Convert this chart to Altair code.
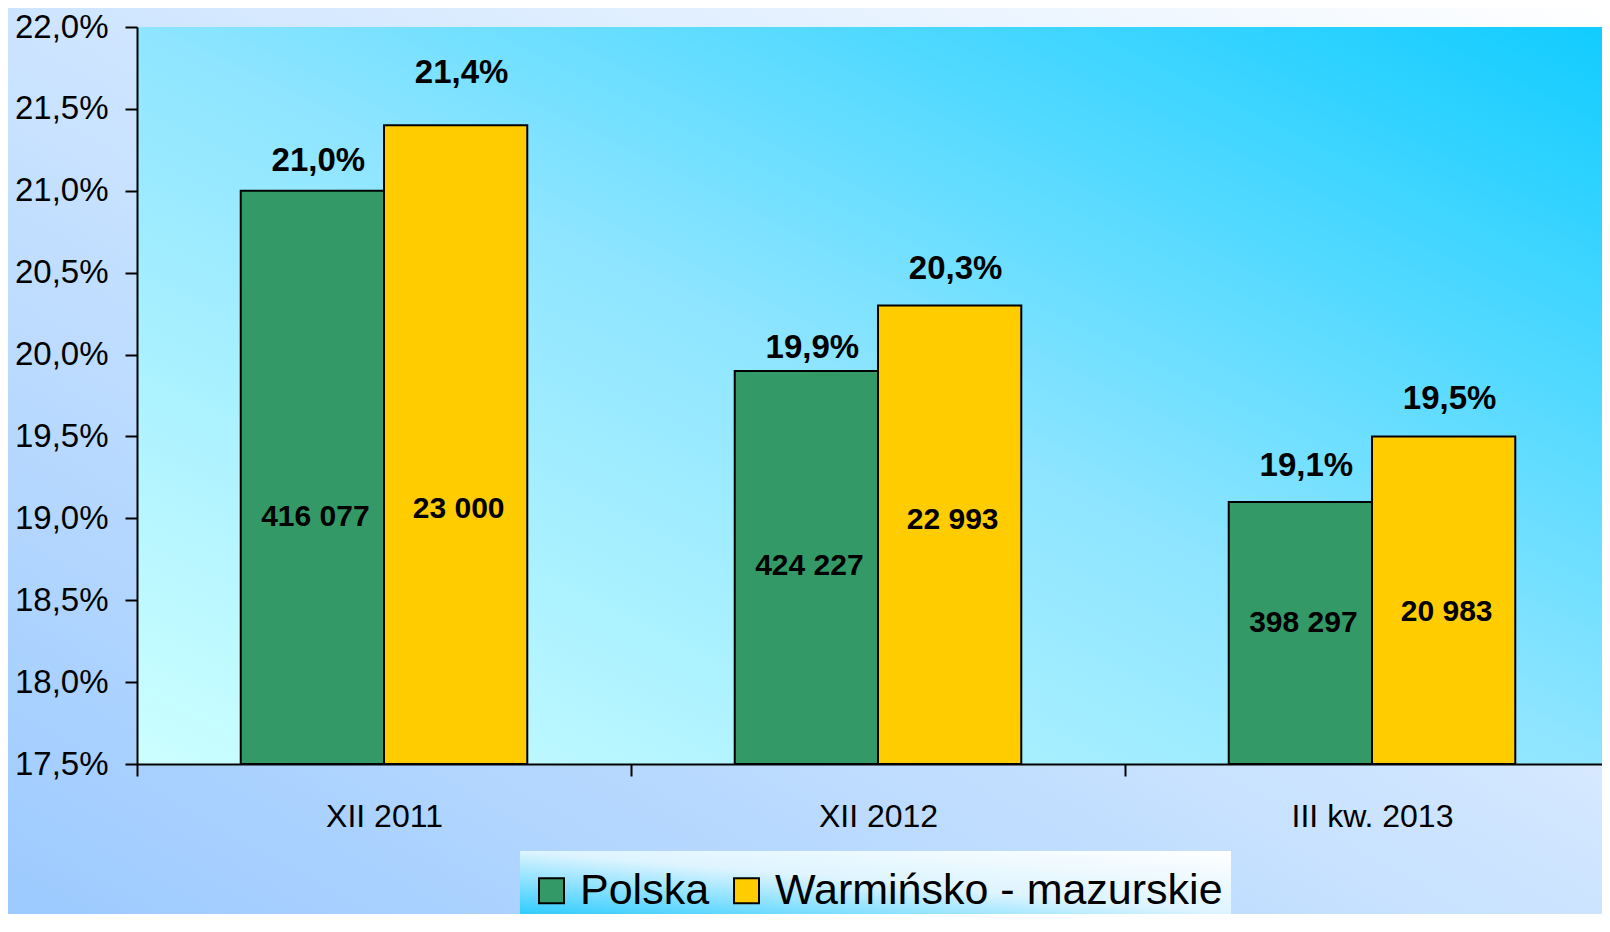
import altair as alt
import pandas as pd

# ---- data ----
categories = ["XII 2011", "XII 2012", "III kw. 2013"]
series = ["Polska", "Warmińsko - mazurskie"]
polska_pct = [21.0, 19.9, 19.1]
warm_pct = [21.4, 20.3, 19.5]
polska_count = ["416 077", "424 227", "398 297"]
warm_count = ["23 000", "22 993", "20 983"]
# vertical positions (in % units of the y scale) where the labels sit in the reference
polska_pct_pos = [21.18, 20.04, 19.32]
warm_pct_pos = [21.72, 20.52, 19.73]
polska_count_pos = [19.01, 18.71, 18.36]
warm_count_pos = [19.06, 18.99, 18.43]
y_ticks = [17.5, 18.0, 18.5, 19.0, 19.5, 20.0, 20.5, 21.0, 21.5, 22.0]
colors = ["#339966", "#FFCC00"]

rows = []
for i, c in enumerate(categories):
    for s, pct, ppos, cnt, pos in [
        (series[0], polska_pct[i], polska_pct_pos[i], polska_count[i], polska_count_pos[i]),
        (series[1], warm_pct[i], warm_pct_pos[i], warm_count[i], warm_count_pos[i]),
    ]:
        rows.append({
            "cat": c, "series": s, "pct": pct, "pct_pos": ppos,
            "pct_label": f"{pct:.1f}".replace(".", ",") + "%",
            "count": cnt, "count_pos": pos,
        })
df = pd.DataFrame(rows)

W, H = 1482, 737
PADL, PADT, PADB, PADR = 129, 19, 150, -17
FONT = "Liberation Sans"
LEG_Y = 826

one = alt.Data(values=[{"a": 1}])

bg = alt.Chart(one).mark_rect(
    color=alt.LinearGradient(
        gradient="linear", x1=0, y1=1, x2=1, y2=0,
        stops=[alt.GradientStop(color="#9CCAFF", offset=0),
               alt.GradientStop(color="#FFFFFF", offset=1)],
    )
).encode(x=alt.value(-PADL), x2=alt.value(W), y=alt.value(-PADT), y2=alt.value(H + PADB))

plotbg = alt.Chart(one).mark_rect(
    color=alt.LinearGradient(
        gradient="linear", x1=0, y1=1, x2=1, y2=0,
        stops=[alt.GradientStop(color="#CCFFFF", offset=0),
               alt.GradientStop(color="#8EE5FF", offset=0.5),
               alt.GradientStop(color="#10CCFF", offset=1)],
    )
).encode(x=alt.value(0), x2=alt.value(W), y=alt.value(0), y2=alt.value(H))

legbg = alt.Chart(one).mark_rect(
    color=alt.LinearGradient(
        gradient="linear", x1=0, y1=1, x2=1, y2=0,
        stops=[alt.GradientStop(color="#30CCFF", offset=0),
               alt.GradientStop(color="#DDF4FF", offset=0.5),
               alt.GradientStop(color="#FFFFFF", offset=1)],
    )
).encode(x=alt.value(383), x2=alt.value(1094), y=alt.value(LEG_Y - 2), y2=alt.value(H + PADB))

base = alt.Chart(df).encode(
    x=alt.X("cat:N", sort=categories,
            scale=alt.Scale(paddingInner=0, paddingOuter=0),
            axis=alt.Axis(title=None, labelAngle=0, labelFont=FONT, labelFontSize=32,
                          labelColor="black", labelPadding=25, tickSize=12,
                          tickBand="extent", domainColor="black", domainWidth=2,
                          tickColor="black", tickWidth=2, zindex=2)),
    xOffset=alt.XOffset("series:N", sort=series,
                        scale=alt.Scale(paddingInner=0, paddingOuter=0.724)),
)

bars = base.mark_bar(stroke="black", strokeWidth=2).encode(
    y=alt.Y("pct:Q", scale=alt.Scale(domain=[17.5, 22.0], zero=False, nice=False),
            axis=alt.Axis(title=None, values=y_ticks,
                          labelExpr="replace(format(datum.value, '.1f'), '.', ',') + '%'",
                          labelFont=FONT, labelFontSize=33, labelColor="black",
                          labelPadding=17, tickSize=12, grid=False,
                          domainColor="black", domainWidth=2,
                          tickColor="black", tickWidth=2, zindex=2)),
    y2=alt.datum(17.5),
    color=alt.Color("series:N", sort=series,
                    scale=alt.Scale(domain=series, range=colors),
                    legend=alt.Legend(orient="none", legendX=377, legendY=LEG_Y,
                                      direction="horizontal", title=None,
                                      labelFont=FONT, labelFontSize=43, labelColor="black",
                                      labelLimit=1000, symbolType="square", symbolSize=625,
                                      symbolStrokeColor="black", symbolStrokeWidth=2,
                                      symbolOpacity=1, labelOffset=7, columnPadding=15,
                                      padding=16, zindex=2)),
)

pct_text = base.mark_text(font=FONT, fontSize=33, fontWeight="bold", color="black",
                          baseline="middle", dx=6).encode(
    y=alt.Y("pct_pos:Q"), text="pct_label:N")

cnt_text = base.mark_text(font=FONT, fontSize=30, fontWeight="bold", color="black",
                          baseline="middle", dx=3).encode(
    y=alt.Y("count_pos:Q"), text="count:N")

chart = alt.layer(bg, plotbg, legbg, bars, pct_text, cnt_text).properties(
    width=W, height=H,
    autosize=alt.AutoSizeParams(type="none"),
    padding={"left": PADL, "top": PADT, "right": PADR, "bottom": PADB},
).configure_view(strokeWidth=0).configure(background="#FFFFFF")

chart.save("out.html", embed_options={"renderer": "svg", "actions": False})
